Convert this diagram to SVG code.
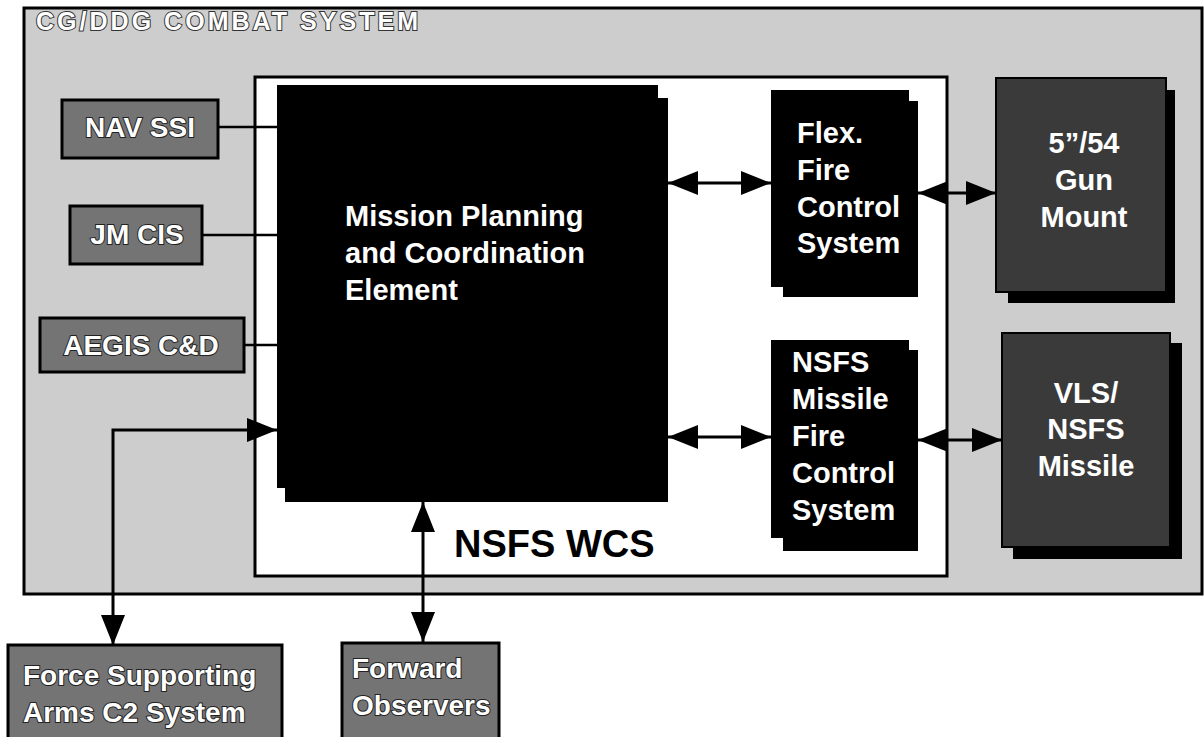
<svg xmlns="http://www.w3.org/2000/svg" width="1204" height="737" viewBox="0 0 1204 737">
<style>
.t{font-family:"Liberation Sans",Arial,sans-serif;font-weight:bold;}
.w{fill:#fff;font-size:29px;}
.emb{fill:#fff;stroke:#222;stroke-width:2;paint-order:stroke;font-size:28px;}
.gbox{fill:#747474;stroke:#000;stroke-width:3;}
.ln{stroke:#000;stroke-width:3;fill:none;}
.thin{stroke:#000;stroke-width:2.5;fill:none;}
</style>
<defs>
<marker id="ah" viewBox="0 0 30 24" refX="30" refY="12" markerWidth="30" markerHeight="24" markerUnits="userSpaceOnUse" orient="auto-start-reverse">
<path d="M0,0 L30,12 L0,24 Z" fill="#000"/>
</marker>
</defs>
<rect width="1204" height="737" fill="#fff"/>
<g id="combat-system">
<rect x="24" y="8" width="1178" height="586" fill="#cdcdcd" stroke="#000" stroke-width="3"/>
<text class="t" x="36" y="30" font-size="25" textLength="382" fill="#fff" stroke="#333" stroke-width="2" paint-order="stroke">CG/DDG COMBAT SYSTEM</text>
</g>
<g id="nsfs-wcs">
<rect x="255" y="77" width="692" height="499" fill="#fff" stroke="#000" stroke-width="3"/>
<text class="t" x="454" y="557" font-size="38" fill="#000">NSFS WCS</text>
</g>
<g id="connectors">
<line class="thin" x1="218" y1="127" x2="277" y2="127"/>
<line class="thin" x1="202" y1="235" x2="277" y2="235"/>
<line class="thin" x1="244" y1="345" x2="277" y2="345"/>
<polyline class="ln" points="113,645 113,430 277,430" marker-start="url(#ah)" marker-end="url(#ah)"/>
<line class="ln" x1="423" y1="502" x2="423" y2="642" marker-start="url(#ah)" marker-end="url(#ah)"/>
<line class="ln" x1="668" y1="183" x2="771" y2="183" marker-start="url(#ah)" marker-end="url(#ah)"/>
<line class="ln" x1="918" y1="193" x2="996" y2="193" marker-start="url(#ah)" marker-end="url(#ah)"/>
<line class="ln" x1="668" y1="437" x2="771" y2="437" marker-start="url(#ah)" marker-end="url(#ah)"/>
<line class="ln" x1="918" y1="440" x2="1002" y2="440" marker-start="url(#ah)" marker-end="url(#ah)"/>
</g>
<g id="nav-ssi">
<rect class="gbox" x="62" y="100" width="156" height="58"/>
<text class="t emb" x="140" y="137" text-anchor="middle">NAV SSI</text>
</g>
<g id="jm-cis">
<rect class="gbox" x="70" y="206" width="132" height="58"/>
<text class="t emb" x="137" y="244" text-anchor="middle">JM CIS</text>
</g>
<g id="aegis">
<rect class="gbox" x="40" y="318" width="204" height="54"/>
<text class="t emb" x="141" y="355" text-anchor="middle">AEGIS C&amp;D</text>
</g>
<g id="mpce">
<rect x="285" y="98" width="383" height="404" fill="#000"/>
<rect x="277" y="85" width="381" height="403" fill="#000"/>
<text class="t w" x="345" y="226">Mission Planning</text>
<text class="t w" x="345" y="263">and Coordination</text>
<text class="t w" x="345" y="300">Element</text>
</g>
<g id="flex-fcs">
<rect x="783" y="101" width="135" height="196" fill="#000"/>
<rect x="771" y="90" width="138" height="197" fill="#000"/>
<text class="t w" x="797" y="143">Flex.</text>
<text class="t w" x="797" y="180">Fire</text>
<text class="t w" x="797" y="217">Control</text>
<text class="t w" x="797" y="253">System</text>
</g>
<g id="nsfs-mfcs">
<rect x="783" y="350" width="135" height="201" fill="#000"/>
<rect x="771" y="340" width="138" height="198" fill="#000"/>
<text class="t w" x="792" y="372">NSFS</text>
<text class="t w" x="792" y="409">Missile</text>
<text class="t w" x="792" y="446">Fire</text>
<text class="t w" x="792" y="483">Control</text>
<text class="t w" x="792" y="520">System</text>
</g>
<g id="gun-mount">
<rect x="1008" y="90" width="167" height="213" fill="#000"/>
<rect x="996" y="78" width="170" height="214" fill="#3a3a3a" stroke="#000" stroke-width="2"/>
<text class="t w" x="1084" y="153" text-anchor="middle">5”/54</text>
<text class="t w" x="1084" y="190" text-anchor="middle">Gun</text>
<text class="t w" x="1084" y="227" text-anchor="middle">Mount</text>
</g>
<g id="vls">
<rect x="1013" y="343" width="169" height="216" fill="#000"/>
<rect x="1002" y="333" width="168" height="214" fill="#3a3a3a" stroke="#000" stroke-width="2"/>
<text class="t w" x="1086" y="403" text-anchor="middle">VLS/</text>
<text class="t w" x="1086" y="439" text-anchor="middle">NSFS</text>
<text class="t w" x="1086" y="476" text-anchor="middle">Missile</text>
</g>
<g id="force-c2">
<rect class="gbox" x="8" y="645" width="274" height="95"/>
<text class="t emb" x="23" y="685">Force Supporting</text>
<text class="t emb" x="23" y="722">Arms C2 System</text>
</g>
<g id="forward-observers">
<rect class="gbox" x="342" y="643" width="157" height="97"/>
<text class="t emb" x="352" y="678">Forward</text>
<text class="t emb" x="352" y="715">Observers</text>
</g>
</svg>
